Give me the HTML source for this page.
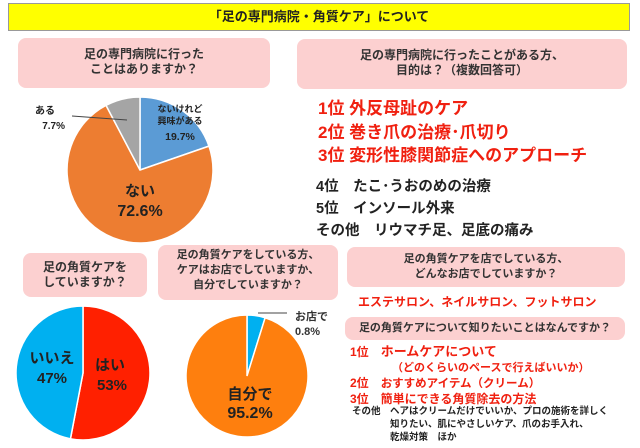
<!DOCTYPE html>
<html><head><meta charset="utf-8"><style>
body{margin:0;width:640px;height:448px;background:#fff;position:relative;overflow:hidden;font-family:"Liberation Sans","Noto Sans CJK JP",sans-serif;font-weight:bold;color:#222}
.a{position:absolute;white-space:nowrap}
.pink{position:absolute;background:#fcd0d0;border-radius:8px;text-align:center;color:#333;font-size:12px;line-height:15px}
.red{color:#f02010}
</style></head><body>
<div class="a" style="left:8px;top:3px;width:620px;height:26px;background:#ffff00;border:1px solid #999;text-align:center;font-size:13px;line-height:26px">「足の専門病院・角質ケア」について</div>

<div class="pink" style="left:18px;top:38px;width:252px;height:50px;padding-top:9px;box-sizing:border-box">足の専門病院に行った<br>ことはありますか？</div>
<div class="pink" style="left:297px;top:39px;width:330px;height:50px;padding-top:9px;box-sizing:border-box">足の専門病院に行ったことがある方、<br>目的は？（複数回答可）</div>

<div class="a red" style="left:318px;top:97px;font-size:17px;line-height:23.5px">1位 外反母趾のケア<br>2位 巻き爪の治療･爪切り<br>3位 変形性膝関節症へのアプローチ</div>
<div class="a" style="left:316px;top:176px;font-size:14.5px;line-height:22px">4位　たこ･うおのめの治療<br>5位　インソール外来<br>その他　リウマチ足、足底の痛み</div>

<div class="pink" style="left:23px;top:253px;width:124px;height:44px;padding-top:7px;box-sizing:border-box">足の角質ケアを<br>していますか？</div>
<div class="pink" style="left:158px;top:245px;width:180px;height:55px;padding-top:3px;box-sizing:border-box;font-size:11px;line-height:15px">足の角質ケアをしている方、<br>ケアはお店でしていますか、<br>自分でしていますか？</div>

<div class="pink" style="left:347px;top:247px;width:278px;height:40px;padding-top:5px;box-sizing:border-box;font-size:11px">足の角質ケアを店でしている方、<br>どんなお店でしていますか？</div>
<div class="a red" style="left:358px;top:293px;font-size:12px">エステサロン、ネイルサロン、フットサロン</div>
<div class="pink" style="left:345px;top:317px;width:280px;height:23px;line-height:23px;font-size:11px">足の角質ケアについて知りたいことはなんですか？</div>
<div class="a red" style="left:350px;top:344px;font-size:12px;line-height:15px">1位　<span style="font-size:13px">ホームケアについて</span><br><span style="margin-left:42px;font-size:11px">（どのくらいのペースで行えばいいか）</span><br>2位　<span style="font-size:11.5px">おすすめアイテム（クリーム）</span><br>3位　簡単にできる角質除去の方法</div>
<div class="a" style="left:352px;top:405px;font-size:9.5px;line-height:13px">その他　ヘアはクリームだけでいいか、プロの施術を詳しく<br><span style="margin-left:38px">知りたい、肌にやさしいケア、爪のお手入れ、</span><br><span style="margin-left:38px">乾燥対策　ほか</span></div>

<svg class="a" style="left:0;top:0" width="640" height="448"></svg>
<script>
const pie1Labels=["ないけれど興味がある","ない","ある"];
const pie1Values=[19.7,72.6,7.7];
const pie3Labels=["はい","いいえ"];
const pie3Values=[53,47];
const pie4Labels=["お店で","自分で"];
const pie4Values=[4.8,95.2];
const svg=document.querySelector('svg');
const NS='http://www.w3.org/2000/svg';
function drawPie(name,cx,cy,r,vals,colors){
  const tot=vals.reduce((a,b)=>a+b,0);let a0=0;
  vals.forEach((v,i)=>{
    const a1=a0+v/tot*2*Math.PI;
    const x0=cx+r*Math.sin(a0),y0=cy-r*Math.cos(a0),x1=cx+r*Math.sin(a1),y1=cy-r*Math.cos(a1);
    const p=document.createElementNS(NS,'path');
    p.setAttribute('d',`M${cx},${cy}L${x0},${y0}A${r},${r} 0 ${a1-a0>Math.PI?1:0} 1 ${x1},${y1}Z`);
    p.setAttribute('fill',colors[i]);p.setAttribute('stroke','#fff');p.setAttribute('stroke-width','1.5');
    
    
    svg.appendChild(p);a0=a1;
  });
}
function txt(x,y,s,size,fill,anchor){
  const t=document.createElementNS(NS,'text');
  t.setAttribute('x',x);t.setAttribute('y',y);t.setAttribute('font-size',size);t.setAttribute('fill',fill||'#222');
  t.setAttribute('text-anchor',anchor||'middle');t.setAttribute('font-weight','bold');t.textContent=s;
  
  
  svg.appendChild(t);
}
function line(x1,y1,x2,y2){const l=document.createElementNS(NS,'line');
  l.setAttribute('x1',x1);l.setAttribute('y1',y1);l.setAttribute('x2',x2);l.setAttribute('y2',y2);l.setAttribute('stroke','#444');
  
  
  svg.appendChild(l);}
drawPie('pie1',140,170,73,pie1Values,['#5b9bd5','#ed7d31','#a5a5a5']);
txt(180,112,'ないけれど',9);txt(180,124,'興味がある',9);txt(180,140,pie1Values[0]+'%',10.5);
txt(140,196,pie1Labels[1],15);txt(140,216,pie1Values[1]+'%',16);
txt(55,114,pie1Labels[2],10,'#222','end');txt(65,129,pie1Values[2]+'%',10,'#222','end');
line(72,116,127,120);
drawPie('pie3',83,373,67,pie3Values,['#ff2000','#00b0f0']);
txt(110,370,pie3Labels[0],15,'#222');txt(112,390,pie3Values[0]+'%',15);
txt(52,363,pie3Labels[1],15);txt(52,383,pie3Values[1]+'%',15);
drawPie('pie4',247,376,61,pie4Values,['#00b0f0','#fe7f0e']);
line(258,313,287,313);
txt(295,320,pie4Labels[0],11,'#333','start');txt(295,335,'0.8%',11,'#333','start');
txt(250,399,pie4Labels[1],15);txt(250,418,pie4Values[1]+'%',16);
</script>
</body></html>
